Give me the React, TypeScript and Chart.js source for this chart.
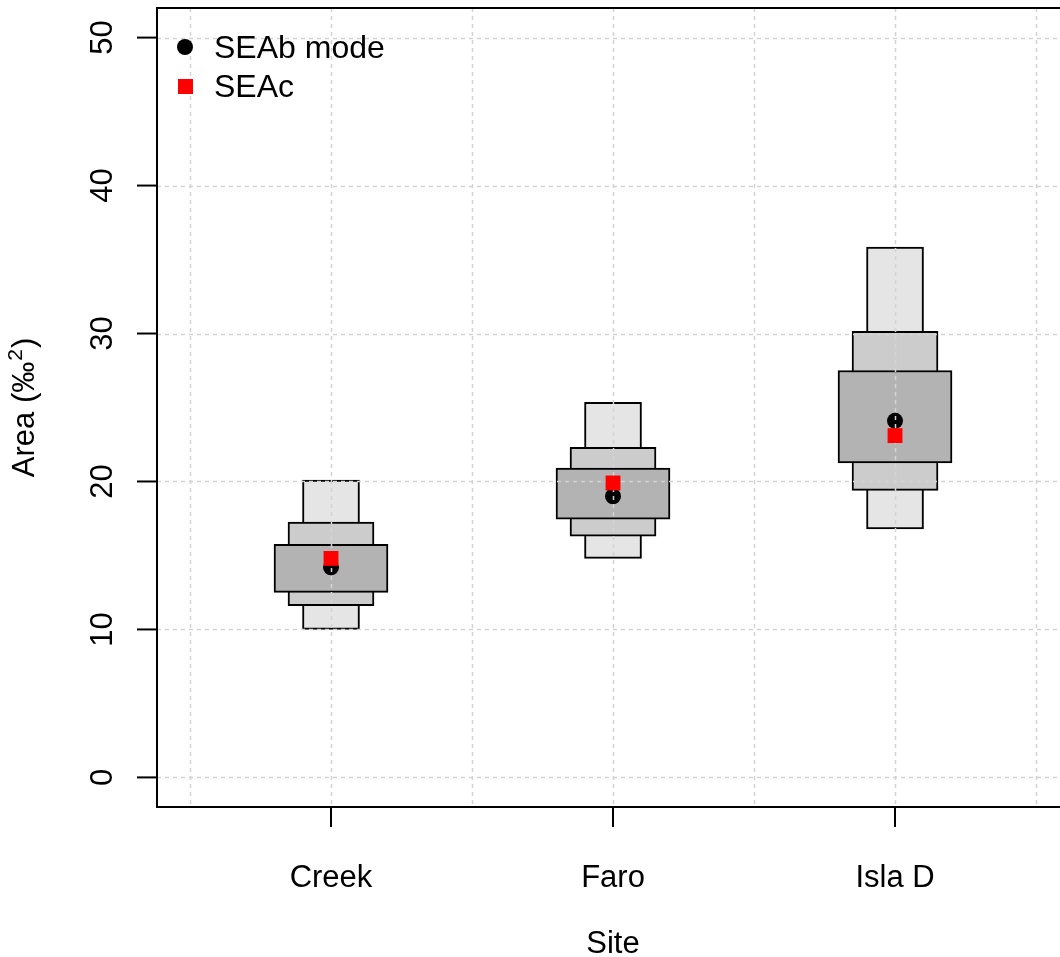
import React, { useEffect, useRef } from 'react';
import { Chart, registerables } from 'chart.js';
Chart.register(...registerables);

const sites = ['Creek', 'Faro', 'Isla D'];
const siteX = [1, 2, 3];
const ci95Low = [10.0, 14.8, 16.8];
const ci95High = [20.1, 25.35, 35.85];
const ci75Low = [11.6, 16.3, 19.4];
const ci75High = [17.25, 22.3, 30.15];
const ci50Low = [12.5, 17.45, 21.25];
const ci50High = [15.75, 20.9, 27.5];
const seabMode = [14.2, 19.0, 24.1];
const seac = [14.8, 19.9, 23.1];
const yTicks = [0, 10, 20, 30, 40, 50];
const xGrid = [0.5, 1, 1.5, 2, 2.5, 3, 3.5];

const W = 1060;
const H = 957;
const FONT = '"Liberation Sans", Arial, Helvetica, sans-serif';

const BLACK_INDEX = 1;

const customPlugin = {
  id: 'rStyle',
  afterDatasetDraw(chart: any, args: any) {
    if (args.index !== BLACK_INDEX) return;
    const { ctx, chartArea: a, scales } = chart;
    const xs = scales.x, ys = scales.y;
    ctx.save();
    ctx.beginPath();
    ctx.rect(a.left, a.top, a.right - a.left, a.bottom - a.top);
    ctx.clip();
    ctx.strokeStyle = '#d3d3d3';
    ctx.lineWidth = 1.5;
    ctx.setLineDash([4, 4]);
    xGrid.forEach((v) => {
      const px = Math.round(xs.getPixelForValue(v)) + 0.5;
      ctx.beginPath();
      ctx.moveTo(px, a.top);
      ctx.lineTo(px, a.bottom);
      ctx.stroke();
    });
    yTicks.forEach((v) => {
      const py = Math.round(ys.getPixelForValue(v)) + 0.5;
      ctx.beginPath();
      ctx.moveTo(a.left, py);
      ctx.lineTo(a.right, py);
      ctx.stroke();
    });
    ctx.restore();
  },
  afterDraw(chart: any) {
    const { ctx, chartArea: a, scales } = chart;
    const xs = scales.x, ys = scales.y;
    ctx.save();
    ctx.strokeStyle = '#000';
    ctx.lineWidth = 2;
    ctx.setLineDash([]);
    ctx.beginPath();
    ctx.moveTo(a.right + 2, a.top);
    ctx.lineTo(a.left, a.top);
    ctx.lineTo(a.left, a.bottom);
    ctx.lineTo(a.right + 2, a.bottom);
    ctx.stroke();

    ctx.lineWidth = 2;
    ctx.font = `31px ${FONT}`;
    ctx.fillStyle = '#000';
    yTicks.forEach((v) => {
      const py = ys.getPixelForValue(v);
      ctx.beginPath();
      ctx.moveTo(a.left, py);
      ctx.lineTo(a.left - 20, py);
      ctx.stroke();
      ctx.save();
      ctx.translate(112, py);
      ctx.rotate(-Math.PI / 2);
      ctx.textAlign = 'center';
      ctx.textBaseline = 'alphabetic';
      ctx.fillText(String(v), 0, 0);
      ctx.restore();
    });

    siteX.forEach((v, i) => {
      const px = xs.getPixelForValue(v);
      ctx.beginPath();
      ctx.moveTo(px, a.bottom);
      ctx.lineTo(px, a.bottom + 20);
      ctx.stroke();
      ctx.textAlign = 'center';
      ctx.textBaseline = 'alphabetic';
      ctx.fillText(sites[i], px, 887);
    });

    ctx.textAlign = 'center';
    ctx.fillText('Site', xs.getPixelForValue(2), 953);

    ctx.save();
    const cy = (a.top + a.bottom) / 2;
    ctx.translate(34, cy);
    ctx.rotate(-Math.PI / 2);
    const main = 'Area (‰';
    ctx.font = `31px ${FONT}`;
    const w1 = ctx.measureText(main).width;
    ctx.font = `21px ${FONT}`;
    const w2 = ctx.measureText('2').width;
    ctx.font = `31px ${FONT}`;
    const w3 = ctx.measureText(')').width;
    const total = w1 + w2 + w3 + 2;
    let x0 = -total / 2;
    ctx.textAlign = 'left';
    ctx.fillText(main, x0, 0);
    x0 += w1 + 1;
    ctx.font = `21px ${FONT}`;
    ctx.fillText('2', x0, -12);
    x0 += w2 + 1;
    ctx.font = `31px ${FONT}`;
    ctx.fillText(')', x0, 0);
    ctx.restore();

    ctx.fillStyle = '#000';
    ctx.beginPath();
    ctx.arc(185, 47, 8, 0, Math.PI * 2);
    ctx.fill();
    ctx.fillStyle = '#ff0000';
    ctx.fillRect(178, 79, 15, 15);
    ctx.fillStyle = '#000';
    ctx.font = `32px ${FONT}`;
    ctx.textAlign = 'left';
    ctx.textBaseline = 'middle';
    ctx.fillText('SEAb mode', 214, 49);
    ctx.fillText('SEAc', 214, 88);
    ctx.restore();
  },
};

export default function App() {
  const ref = useRef<HTMLCanvasElement | null>(null);
  useEffect(() => {
    if (!ref.current) return;
    const mk = (lo: number[], hi: number[]) => siteX.map((x, i) => ({ x, y: [lo[i], hi[i]] }));
    const box = (label: string, lo: number[], hi: number[], color: string, thick: number, order: number) => ({
      label,
      data: mk(lo, hi),
      backgroundColor: color,
      borderColor: '#000',
      borderWidth: 2,
      borderSkipped: false,
      barThickness: thick,
      grouped: false,
      order,
    });
    const chart = new Chart(ref.current, {
      type: 'bar',
      data: {
        datasets: [
          {
            type: 'scatter',
            label: 'SEAc',
            data: siteX.map((x, i) => ({ x, y: seac[i] })),
            pointStyle: 'rect',
            pointRadius: 10.5,
            backgroundColor: '#ff0000',
            borderColor: '#ff0000',
            borderWidth: 0,
            order: 0,
          } as any,
          {
            type: 'scatter',
            label: 'SEAb mode',
            data: siteX.map((x, i) => ({ x, y: seabMode[i] })),
            pointStyle: 'circle',
            pointRadius: 8,
            backgroundColor: '#000',
            borderColor: '#000',
            borderWidth: 0,
            order: 1,
          } as any,
          box('50%', ci50Low, ci50High, '#b3b3b3', 114, 2) as any,
          box('75%', ci75Low, ci75High, '#cccccc', 86, 3) as any,
          box('95%', ci95Low, ci95High, '#e5e5e5', 57, 4) as any,
        ],
      },
      options: {
        responsive: false,
        animation: false,
        devicePixelRatio: 1,
        events: [],
        layout: { autoPadding: false, padding: { left: 157, top: 8, right: 0, bottom: H - 807 } },
        plugins: { legend: { display: false }, tooltip: { enabled: false } },
        scales: {
          x: { type: 'linear', min: 0.383, max: 3.585, offset: false, display: false },
          y: { type: 'linear', min: -2, max: 52, display: false },
        },
      },
      plugins: [customPlugin],
    } as any);
    return () => chart.destroy();
  }, []);
  return (
    <div style={{ position: 'absolute', left: 0, top: 0, width: W, height: H, background: '#fff' }}>
      <canvas ref={ref} width={W} height={H} style={{ display: 'block', width: W, height: H }} />
    </div>
  );
}
